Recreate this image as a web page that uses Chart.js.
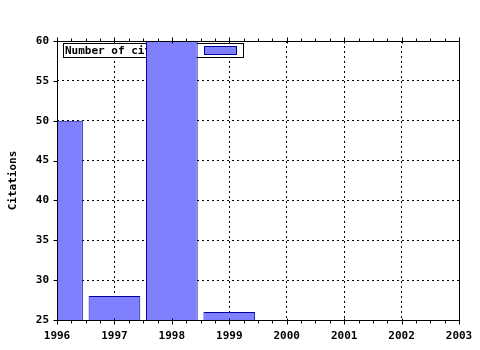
<!DOCTYPE html>
<html>
<head>
<meta charset="utf-8">
<script src="https://cdn.jsdelivr.net/npm/chart.js@4/dist/chart.umd.min.js"></script>
<style>
html,body{margin:0;padding:0;background:#fff;}
#wrap{width:480px;height:350px;}
</style>
</head>
<body>
<div id="wrap"><canvas id="c" width="480" height="350"></canvas></div>
<script>
const years = [1996, 1997, 1998, 1999];
const citations = [50, 28, 60, 26];
const xTickLabels = ['1996','1997','1998','1999','2000','2001','2002','2003'];
const yTickLabels = ['25','30','35','40','45','50','55','60'];
const seriesLabel = 'Number of citations';
const yTitle = 'Citations';

const FONT = "'DejaVu Sans Mono', 'Liberation Mono', monospace";
const FILL = '#8080ff';
const EDGE = '#0000a0';

const frame = {
  id: 'frame',
  beforeDatasetsDraw(chart) {
    const ctx = chart.ctx;
    const a = chart.chartArea;
    ctx.save();
    ctx.font = 'bold 11px ' + FONT;
    const lx = Math.round(a.left) + 6, ly = Math.round(a.top) + 2, lw = 180, lh = 14;
    ctx.fillStyle = '#fff';
    ctx.fillRect(lx, ly, lw, lh);
    ctx.strokeStyle = '#000';
    ctx.lineWidth = 1;
    ctx.strokeRect(lx + 0.5, ly + 0.5, lw, lh);
    ctx.fillStyle = '#000';
    ctx.textBaseline = 'middle';
    ctx.fillText(chart.data.datasets[0].label, lx + 2, ly + lh / 2 + 1);
    ctx.fillStyle = FILL;
    ctx.fillRect(lx + 141, ly + 3, 32, 8);
    ctx.strokeStyle = EDGE;
    ctx.strokeRect(lx + 141.5, ly + 3.5, 32, 8);
    ctx.restore();
  },
  afterDatasetsDraw(chart) {
    const ctx = chart.ctx;
    const a = chart.chartArea;
    const xs = chart.scales.x, ys = chart.scales.y;
    ctx.save();
    ctx.strokeStyle = '#000';
    ctx.lineWidth = 1;
    ctx.beginPath();
    const L = Math.round(a.left) + 0.5, R = Math.round(a.right) + 0.5;
    const T = Math.round(a.top) + 0.5, B = Math.round(a.bottom) + 0.5;
    ctx.moveTo(L, T); ctx.lineTo(R, T); ctx.lineTo(R, B); ctx.lineTo(L, B); ctx.closePath();
    for (let v = xs.min; v <= xs.max + 1e-9; v += 0.25) {
      const px = Math.round(xs.getPixelForValue(v)) + 0.5;
      const major = Math.abs(v - Math.round(v)) < 1e-6;
      const len = major ? 4 : 3;
      ctx.moveTo(px, B - (major ? 2 : 0)); ctx.lineTo(px, B + len);
      ctx.moveTo(px, T + (major ? 2 : 0)); ctx.lineTo(px, T - len);
    }
    for (let v = ys.min; v <= ys.max + 1e-9; v += 5) {
      const py = Math.round(ys.getPixelForValue(v)) + 0.5;
      ctx.moveTo(L - 4, py); ctx.lineTo(L, py);
    }
    ctx.stroke();
    ctx.restore();
  }
};

new Chart(document.getElementById('c'), {
  type: 'bar',
  data: {
    datasets: [{
      label: seriesLabel,
      data: years.map((x, i) => ({ x: x, y: citations[i] })),
      backgroundColor: FILL,
      borderColor: EDGE,
      borderWidth: 1,
      barPercentage: 0.9,
      categoryPercentage: 1.0
    }]
  },
  options: {
    responsive: false,
    animation: false,
    devicePixelRatio: 1,
    layout: { padding: { top: 41, right: 21, left: 0, bottom: 0 } },
    plugins: { legend: { display: false }, tooltip: { enabled: false } },
    scales: {
      x: {
        type: 'linear',
        min: 1996, max: 2003,
        offset: false,
        afterFit(s) { s.height = 30; s.paddingLeft = 0; s.paddingRight = 0; },
        grid: { color: '#000', lineWidth: 1, drawTicks: false, offset: false },
        border: { display: false, dash: [2, 3] },
        ticks: {
          stepSize: 1, padding: 10, color: '#000',
          font: { family: FONT, size: 11, weight: 'bold' },
          callback: (v) => xTickLabels[Math.round(v - 1996)] ?? ''
        }
      },
      y: {
        min: 25, max: 60,
        afterFit(s) { s.width = 57; s.paddingTop = 0; s.paddingBottom = 0; },
        grid: { color: '#000', lineWidth: 1, drawTicks: false },
        border: { display: false, dash: [2, 3] },
        title: {
          display: true, text: yTitle, color: '#000',
          font: { family: FONT, size: 11, weight: 'bold' },
          padding: { top: 7, bottom: 0 }
        },
        ticks: {
          stepSize: 5, padding: 8, color: '#000',
          font: { family: FONT, size: 11, weight: 'bold' },
          callback: (v) => yTickLabels[Math.round((v - 25) / 5)] ?? ''
        }
      }
    }
  },
  plugins: [frame]
});
</script>
</body>
</html>
